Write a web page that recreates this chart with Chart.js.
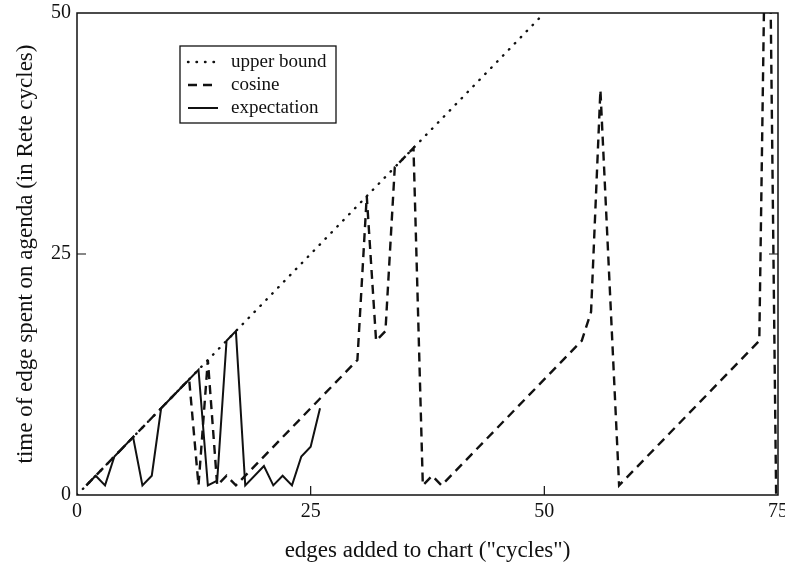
<!DOCTYPE html>
<html>
<head>
<meta charset="utf-8">
<script src="https://cdn.jsdelivr.net/npm/chart.js@4"></script>
<style>
  html, body { margin: 0; padding: 0; background: #fff; }
  #wrap { width: 785px; height: 567px; }
</style>
</head>
<body>
<div id="wrap"><canvas id="agendaChart" width="785" height="567"></canvas></div>
<script>
const boundX = [0, 50];
const boundY = [0, 50];

const cosineX = [1, 12, 13, 14, 15, 16, 17, 30, 31, 32, 33, 34, 36, 37, 38, 39, 54, 55, 56, 58, 73, 73.9, 74.8];
const cosineY = [1, 12, 1, 14, 1, 2, 1, 14, 31, 16, 17, 34, 36, 1, 2, 1, 16, 19, 42, 1, 16, 78, 0];

const expectX = [1, 2, 3, 4, 6, 7, 8, 9, 13, 14, 15, 16, 17, 18, 20, 21, 22, 23, 24, 25, 26];
const expectY = [1, 2, 1, 4, 6, 1, 2, 9, 13, 1, 1.5, 16, 17, 1, 3, 1, 2, 1, 4, 5, 9];

const xTicks = [0, 25, 50, 75];
const yTicks = [0, 25, 50];

const serif = "'Liberation Serif', 'DejaVu Serif', serif";

function pts(xs, ys) { return xs.map((x, i) => ({ x: x, y: ys[i] })); }

// frame, inward tick marks and the boxed legend
const framePlugin = {
  id: "frame",
  afterDatasetsDraw(chart) {
    const { ctx, chartArea: a, scales } = chart;
    ctx.save();
    ctx.strokeStyle = "#111";
    ctx.lineWidth = 1.5;
    ctx.strokeRect(a.left, a.top, a.right - a.left, a.bottom - a.top);

    ctx.lineWidth = 1.2;
    ctx.beginPath();
    [25, 50].forEach(v => {
      const px = scales.x.getPixelForValue(v);
      ctx.moveTo(px, a.bottom);
      ctx.lineTo(px, a.bottom - 9);
    });
    const py = scales.y.getPixelForValue(25);
    ctx.moveTo(a.left, py); ctx.lineTo(a.left + 9, py);
    ctx.moveTo(a.right, py); ctx.lineTo(a.right - 9, py);
    ctx.stroke();

    // legend
    const bx = 180, by = 46, bw = 156, bh = 77;
    ctx.lineWidth = 1.3;
    ctx.strokeRect(bx, by, bw, bh);
    ctx.font = "19px " + serif;
    ctx.fillStyle = "#111";
    ctx.textBaseline = "middle";
    chart.data.datasets.forEach((ds, i) => {
      const ry = by + 16 + i * 23;
      ctx.beginPath();
      ctx.setLineDash(ds.borderDash || []);
      ctx.lineCap = ds.borderCapStyle || "butt";
      ctx.lineWidth = ds.borderWidth;
      ctx.moveTo(bx + 8, ry);
      ctx.lineTo(bx + 38, ry);
      ctx.stroke();
      ctx.setLineDash([]);
      ctx.fillText(ds.label, bx + 51, ry);
    });
    ctx.restore();
  }
};

const chart = new Chart(document.getElementById("agendaChart").getContext("2d"), {
  type: "line",
  data: {
    datasets: [
      {
        label: "upper bound",
        data: pts(boundX, boundY),
        borderColor: "#111",
        borderWidth: 2.4,
        borderDash: [0.5, 8],
        borderCapStyle: "round"
      },
      {
        label: "cosine",
        data: pts(cosineX, cosineY),
        borderColor: "#111",
        borderWidth: 2.4,
        borderDash: [9, 6]
      },
      {
        label: "expectation",
        data: pts(expectX, expectY),
        borderColor: "#111",
        borderWidth: 2
      }
    ]
  },
  options: {
    responsive: false,
    animation: false,
    elements: { point: { radius: 0 }, line: { tension: 0 } },
    layout: { padding: { top: 13, right: 7, left: 0, bottom: 0 } },
    plugins: { legend: { display: false }, tooltip: { enabled: false } },
    scales: {
      x: {
        type: "linear",
        min: 0, max: 75,
        afterBuildTicks: s => { s.ticks = xTicks.map(v => ({ value: v })); },
        afterFit: s => { s.height = 72; s.paddingRight = 0; s.paddingLeft = 0; },
        grid: { display: false, drawTicks: false },
        border: { display: false },
        ticks: { color: "#111", padding: 5, font: { family: serif, size: 20 }, maxRotation: 0 },
        title: {
          display: true,
          text: 'edges added to chart ("cycles")',
          color: "#111",
          font: { family: serif, size: 23 },
          padding: { top: 0, bottom: 2 }
        }
      },
      y: {
        type: "linear",
        min: 0, max: 50,
        afterBuildTicks: s => { s.ticks = yTicks.map(v => ({ value: v })); },
        afterFit: s => { s.width = 77; s.paddingTop = 0; s.paddingBottom = 0; },
        grid: { display: false, drawTicks: false },
        border: { display: false },
        ticks: { color: "#111", padding: 6, font: { family: serif, size: 20 } },
        title: {
          display: true,
          text: "time of edge spent on agenda (in Rete cycles)",
          color: "#111",
          font: { family: serif, size: 23 },
          padding: { top: 12, bottom: 0 }
        }
      }
    }
  },
  plugins: [framePlugin]
});
</script>
</body>
</html>
